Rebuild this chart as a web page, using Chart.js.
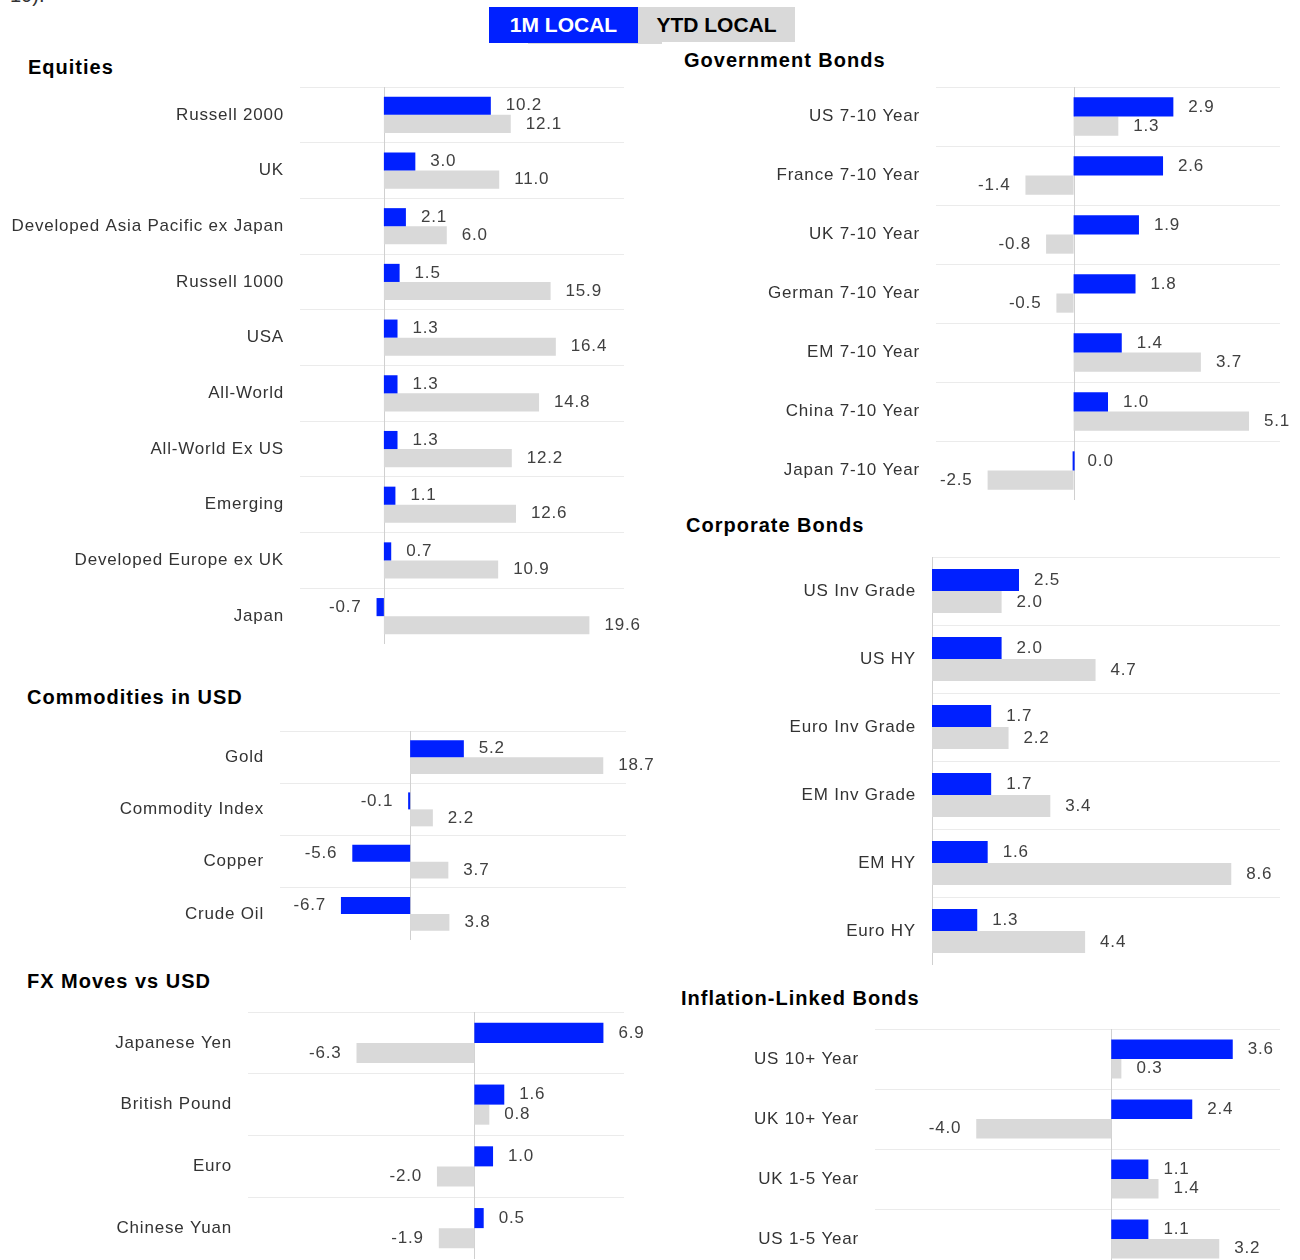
<!DOCTYPE html>
<html>
<head>
<meta charset="utf-8">
<script src="https://cdn.jsdelivr.net/npm/chart.js@4.4.1/dist/chart.umd.min.js"></script>
<style>
  body { margin: 0; width: 1300px; height: 1260px; overflow: hidden; background: #fff; position: relative;
         font-family: "Liberation Sans", Arial, sans-serif; }
  .title { position: absolute; font-weight: bold; font-size: 20px; line-height: 24px; color: #000; letter-spacing: 1px; white-space: nowrap; }
  .box { position: absolute; font-weight: bold; font-size: 21px; line-height: 36px; text-align: center; }
  canvas { position: absolute; }
</style>
</head>
<body>
<div class="title" style="left:10px;top:-17px;font-weight:normal;color:#333;letter-spacing:0">10).</div>
<div class="box" style="left:528px;top:12px;width:134px;height:32px;background:#d9d9d9"></div>
<div class="box" style="left:489px;top:7px;width:149px;height:36px;background:#0020ff;color:#fff">1M LOCAL</div>
<div class="box" style="left:638px;top:7px;width:157px;height:35px;background:#d9d9d9;color:#000;line-height:35px">YTD LOCAL</div>

<div class="title" style="left:28px;top:55px">Equities</div>
<div class="title" style="left:684px;top:48px">Government Bonds</div>
<div class="title" style="left:686px;top:513px">Corporate Bonds</div>
<div class="title" style="left:27px;top:685px">Commodities in USD</div>
<div class="title" style="left:27px;top:969px">FX Moves vs USD</div>
<div class="title" style="left:681px;top:986px">Inflation-Linked Bonds</div>

<script>
const BLUE = '#0020ff';
const GREY = '#d9d9d9';

// Equities
const eqLabels = ['Russell 2000', 'UK', 'Developed Asia Pacific ex Japan', 'Russell 1000', 'USA',
  'All-World', 'All-World Ex US', 'Emerging', 'Developed Europe ex UK', 'Japan'];
const eq1M = [10.2, 3.0, 2.1, 1.5, 1.3, 1.3, 1.3, 1.1, 0.7, -0.7];
const eqYTD = [12.1, 11.0, 6.0, 15.9, 16.4, 14.8, 12.2, 12.6, 10.9, 19.6];

// Government Bonds
const govLabels = ['US 7-10 Year', 'France 7-10 Year', 'UK 7-10 Year', 'German 7-10 Year',
  'EM 7-10 Year', 'China 7-10 Year', 'Japan 7-10 Year'];
const gov1M = [2.9, 2.6, 1.9, 1.8, 1.4, 1.0, 0.0];
const govYTD = [1.3, -1.4, -0.8, -0.5, 3.7, 5.1, -2.5];

// Corporate Bonds
const corpLabels = ['US Inv Grade', 'US HY', 'Euro Inv Grade', 'EM Inv Grade', 'EM HY', 'Euro HY'];
const corp1M = [2.5, 2.0, 1.7, 1.7, 1.6, 1.3];
const corpYTD = [2.0, 4.7, 2.2, 3.4, 8.6, 4.4];

// Commodities in USD
const comLabels = ['Gold', 'Commodity Index', 'Copper', 'Crude Oil'];
const com1M = [5.2, -0.1, -5.6, -6.7];
const comYTD = [18.7, 2.2, 3.7, 3.8];

// FX Moves vs USD
const fxLabels = ['Japanese Yen', 'British Pound', 'Euro', 'Chinese Yuan'];
const fx1M = [6.9, 1.6, 1.0, 0.5];
const fxYTD = [-6.3, 0.8, -2.0, -1.9];

// Inflation-Linked Bonds
const ilLabels = ['US 10+ Year', 'UK 10+ Year', 'UK 1-5 Year', 'US 1-5 Year'];
const il1M = [3.6, 2.4, 1.1, 1.1];
const ilYTD = [0.3, -4.0, 1.4, 3.2];

// the source text is slightly letter-spaced
const spacing = {
  id: 'spacing',
  beforeDraw(chart) { chart.ctx.letterSpacing = '0.8px'; }
};

const zeroLine = {
  id: 'zeroLine',
  beforeDatasetsDraw(chart) {
    const ctx = chart.ctx;
    const x = Math.round(chart.scales.x.getPixelForValue(0)) + 0.5;
    ctx.save();
    ctx.strokeStyle = '#d0d0d0';
    ctx.lineWidth = 1;
    ctx.beginPath();
    ctx.moveTo(x, chart.chartArea.top);
    ctx.lineTo(x, chart.chartArea.bottom + 4);
    ctx.stroke();
    ctx.restore();
  }
};

const valueLabels = {
  id: 'valueLabels',
  afterDatasetsDraw(chart) {
    const ctx = chart.ctx;
    ctx.save();
    ctx.font = '17px "Liberation Sans", Arial, sans-serif';
    ctx.fillStyle = '#404040';
    ctx.textBaseline = 'middle';
    chart.data.datasets.forEach((ds, di) => {
      chart.getDatasetMeta(di).data.forEach((el, i) => {
        const v = ds.data[i];
        const neg = v < 0;
        ctx.textAlign = neg ? 'right' : 'left';
        ctx.fillText(v.toFixed(1), el.x + (neg ? -15 : 15), el.y);
      });
    });
    ctx.restore();
  }
};

function panel(p, labels, m1, ytd) {
  const c = document.createElement('canvas');
  c.width = p.w; c.height = p.h;
  c.style.left = p.left + 'px';
  c.style.top = p.top + 'px';
  document.body.appendChild(c);
  new Chart(c, {
    type: 'bar',
    data: {
      labels: labels,
      datasets: [
        { label: '1M LOCAL', data: m1, backgroundColor: BLUE },
        { label: 'YTD LOCAL', data: ytd, backgroundColor: GREY }
      ]
    },
    options: {
      indexAxis: 'y',
      responsive: false,
      animation: false,
      categoryPercentage: 0.65,
      barPercentage: 1,
      minBarLength: 2,
      layout: { padding: { left: 0, top: 0, bottom: 0, right: p.left + p.w - p.plotRight } },
      plugins: { legend: { display: false }, tooltip: { enabled: false } },
      scales: {
        x: { display: false, min: p.min, max: p.max },
        y: {
          afterFit: (s) => { s.width = p.plotLeft - p.left; s.paddingTop = 0; s.paddingBottom = 0; },
          border: { display: false },
          grid: { color: '#ebebeb', drawTicks: false, offset: true },
          ticks: {
            autoSkip: false, padding: 16, color: '#333',
            font: { family: '"Liberation Sans", Arial, sans-serif', size: 17 }
          }
        }
      }
    },
    plugins: [spacing, zeroLine, valueLabels]
  });
}

panel({ left: 0, top: 87, w: 660, h: 557, plotLeft: 300, plotRight: 624, min: -8, max: 22.9 }, eqLabels, eq1M, eqYTD);
panel({ left: 650, top: 87, w: 650, h: 413, plotLeft: 936, plotRight: 1280, min: -4, max: 6 }, govLabels, gov1M, govYTD);
panel({ left: 650, top: 557, w: 650, h: 408, plotLeft: 932, plotRight: 1280, min: 0, max: 10 }, corpLabels, corp1M, corpYTD);
panel({ left: 0, top: 731, w: 660, h: 209, plotLeft: 280, plotRight: 626, min: -12.6, max: 20.9 }, comLabels, com1M, comYTD);
panel({ left: 0, top: 1012, w: 660, h: 247, plotLeft: 248, plotRight: 624, min: -12.1, max: 8.0 }, fxLabels, fx1M, fxYTD);
panel({ left: 650, top: 1029, w: 650, h: 240, plotLeft: 875, plotRight: 1280, min: -7, max: 5 }, ilLabels, il1M, ilYTD);
</script>
</body>
</html>
